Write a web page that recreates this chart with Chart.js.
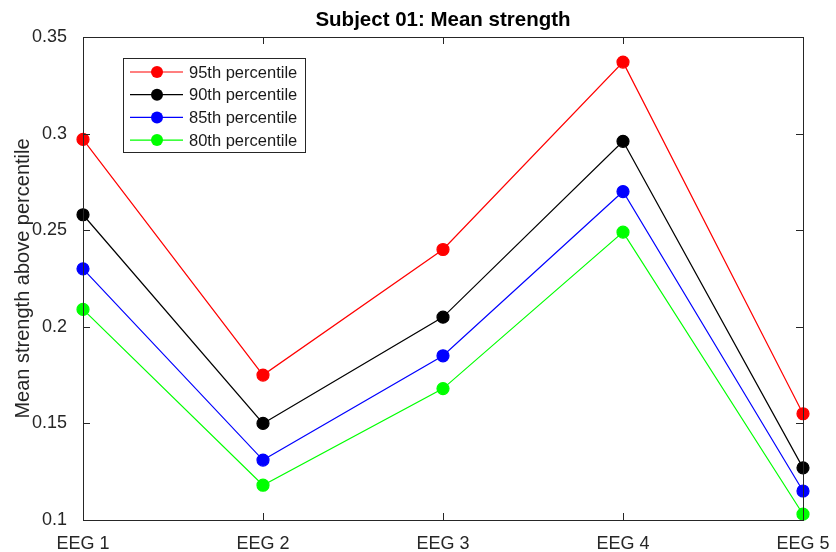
<!DOCTYPE html>
<html>
<head>
<meta charset="utf-8">
<script src="https://cdn.jsdelivr.net/npm/chart.js@4.4.0/dist/chart.umd.min.js"></script>
<style>
  html, body { margin: 0; padding: 0; background: #fff; }
  #wrap { width: 836px; height: 552px; }
</style>
</head>
<body>
<div id="wrap"><canvas id="myChart" width="836" height="552"></canvas></div>
<script>
const categories = ['EEG 1', 'EEG 2', 'EEG 3', 'EEG 4', 'EEG 5'];
const p95 = [0.297, 0.175, 0.240, 0.337, 0.155];
const p90 = [0.258, 0.150, 0.205, 0.296, 0.127];
const p85 = [0.230, 0.131, 0.185, 0.270, 0.115];
const p80 = [0.209, 0.118, 0.168, 0.249, 0.103];
const yTicks = [0.1, 0.15, 0.2, 0.25, 0.3, 0.35];
const yTickLabels = ['0.1', '0.15', '0.2', '0.25', '0.3', '0.35'];

const FONT = '"Liberation Sans", Arial, Helvetica, sans-serif';
const AXIS = '#262626';

function series(label, data, color) {
  return {
    label: label,
    data: data,
    borderColor: color,
    backgroundColor: color,
    pointBackgroundColor: color,
    pointBorderColor: color,
    pointRadius: 6,
    pointHoverRadius: 6,
    borderWidth: 1.2,
    tension: 0,
    clip: false
  };
}

// box, inward ticks, title and legend, MATLAB style
const matlabFrame = {
  id: 'matlabFrame',
  afterDatasetsDraw(chart) {
    const { ctx, chartArea: a, scales } = chart;
    ctx.save();
    ctx.strokeStyle = AXIS;
    ctx.lineWidth = 1;
    ctx.strokeRect(a.left + 0.5, a.top + 0.5, a.right - a.left, a.bottom - a.top);
    const tl = 7;
    ctx.beginPath();
    categories.forEach((c, i) => {
      const x = Math.round(scales.x.getPixelForValue(i)) + 0.5;
      ctx.moveTo(x, a.bottom); ctx.lineTo(x, a.bottom - tl);
      ctx.moveTo(x, a.top); ctx.lineTo(x, a.top + tl);
    });
    yTicks.forEach(v => {
      const y = Math.round(scales.y.getPixelForValue(v)) + 0.5;
      ctx.moveTo(a.left, y); ctx.lineTo(a.left + tl, y);
      ctx.moveTo(a.right, y); ctx.lineTo(a.right - tl, y);
    });
    ctx.stroke();

    // title
    ctx.fillStyle = '#000';
    ctx.font = 'bold 20.5px ' + FONT;
    ctx.textAlign = 'center';
    ctx.textBaseline = 'middle';
    ctx.fillText('Subject 01: Mean strength', (a.left + a.right) / 2, 20);

    // legend
    const lx = 123, ly = 58, lw = 182, lh = 94;
    ctx.fillStyle = '#fff';
    ctx.fillRect(lx, ly, lw, lh);
    ctx.strokeStyle = AXIS;
    ctx.strokeRect(lx + 0.5, ly + 0.5, lw, lh);
    ctx.font = '16.5px ' + FONT;
    ctx.textAlign = 'left';
    chart.data.datasets.forEach((ds, i) => {
      const y = 72 + i * 22.7;
      ctx.strokeStyle = ds.borderColor;
      ctx.lineWidth = 1.2;
      ctx.beginPath();
      ctx.moveTo(130, y); ctx.lineTo(183, y);
      ctx.stroke();
      ctx.fillStyle = ds.backgroundColor;
      ctx.beginPath();
      ctx.arc(157, y, 6, 0, Math.PI * 2);
      ctx.fill();
      ctx.fillStyle = '#1a1a1a';
      ctx.fillText(ds.label, 189, y + 1);
    });
    ctx.restore();
  }
};

new Chart(document.getElementById('myChart'), {
  type: 'line',
  data: {
    labels: categories,
    datasets: [
      series('95th percentile', p95, '#ff0000'),
      series('90th percentile', p90, '#000000'),
      series('85th percentile', p85, '#0000ff'),
      series('80th percentile', p80, '#00ff00')
    ]
  },
  options: {
    responsive: false,
    animation: false,
    layout: { padding: { top: 37, right: 33, left: 0, bottom: 0 } },
    plugins: {
      legend: { display: false },
      title: { display: false },
      tooltip: { enabled: false }
    },
    scales: {
      x: {
        type: 'category',
        offset: false,
        grid: { display: false },
        border: { display: false },
        ticks: {
          color: AXIS,
          font: { family: FONT, size: 18 },
          padding: 5,
          maxRotation: 0,
          autoSkip: false
        },
        afterFit(scale) { scale.height = 32; }
      },
      y: {
        min: 0.1,
        max: 0.35,
        grid: { display: false },
        border: { display: false },
        afterBuildTicks(scale) { scale.ticks = yTicks.map(v => ({ value: v })); },
        ticks: {
          color: AXIS,
          font: { family: FONT, size: 18 },
          padding: 8,
          callback(value) {
            const i = yTicks.findIndex(t => Math.abs(t - value) < 1e-9);
            return i >= 0 ? yTickLabels[i] : '';
          }
        },
        title: {
          display: true,
          text: 'Mean strength above percentile',
          color: AXIS,
          font: { family: FONT, size: 20 },
          padding: { top: 11, bottom: 0 }
        },
        afterFit(scale) { scale.width = 83; }
      }
    }
  },
  plugins: [matlabFrame]
});
</script>
</body>
</html>
